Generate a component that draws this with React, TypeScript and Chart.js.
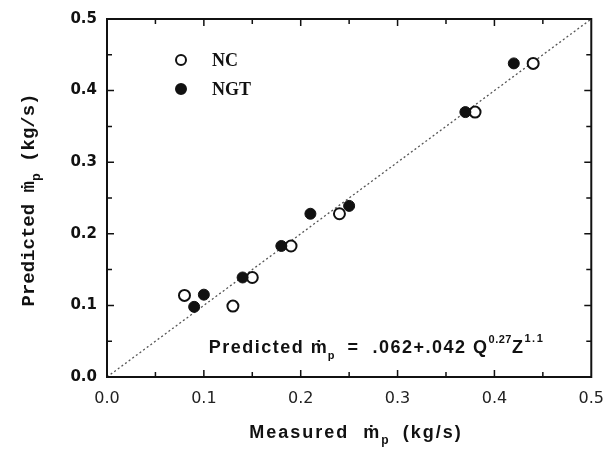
import React, { useEffect, useRef } from "react";
import { Chart, registerables } from "chart.js";
Chart.register(...registerables);

// ---- data ----
const ncX = [0.08, 0.13, 0.15, 0.19, 0.24, 0.38, 0.44];
const ncY = [0.114, 0.099, 0.139, 0.183, 0.228, 0.37, 0.438];
const ngtX = [0.09, 0.1, 0.14, 0.18, 0.21, 0.25, 0.37, 0.42];
const ngtY = [0.098, 0.115, 0.139, 0.183, 0.228, 0.239, 0.37, 0.438];
const parityLine = [0, 0.5];
const seriesLabels = ["NC", "NGT"];
const axisMin = 0;
const axisMax = 0.5;
const majorStep = 0.1;
const minorStep = 0.05;
const equationAnchor = [0.105, 0.033];

type Part = { t: string; f: string; dy: number; ls?: string };

function partsWidth(ctx: CanvasRenderingContext2D, parts: Part[]) {
  let w = 0;
  for (const p of parts) {
    ctx.font = p.f;
    (ctx as any).letterSpacing = p.ls || "0px";
    w += ctx.measureText(p.t).width;
  }
  return w;
}

function drawRich(ctx: CanvasRenderingContext2D, parts: Part[], x: number, y: number, align: "left" | "center") {
  ctx.save();
  ctx.textBaseline = "alphabetic";
  ctx.textAlign = "left";
  let cx = x;
  if (align === "center") cx = x - partsWidth(ctx, parts) / 2;
  for (const p of parts) {
    ctx.font = p.f;
    (ctx as any).letterSpacing = p.ls || "0px";
    ctx.fillText(p.t, cx, y + p.dy);
    cx += ctx.measureText(p.t).width;
  }
  ctx.restore();
}

const decorPlugin = {
  id: "decor",
  afterDraw(chart: any) {
    const ctx: CanvasRenderingContext2D = chart.ctx;
    const xs = chart.scales.x;
    const ys = chart.scales.y;
    const { left, right, top, bottom } = chart.chartArea;
    ctx.save();
    ctx.strokeStyle = "#111";
    ctx.fillStyle = "#111";
    // frame
    ctx.lineWidth = 2;
    ctx.strokeRect(left, top, right - left, bottom - top);
    // inward ticks on all four sides
    ctx.lineWidth = 1.5;
    const n = Math.round((axisMax - axisMin) / minorStep);
    for (let i = 1; i < n; i++) {
      const v = axisMin + i * minorStep;
      const major = i % Math.round(majorStep / minorStep) === 0;
      const len = major ? 7 : 5;
      const px = xs.getPixelForValue(v);
      const py = ys.getPixelForValue(v);
      ctx.beginPath();
      ctx.moveTo(px, bottom);
      ctx.lineTo(px, bottom - len);
      ctx.moveTo(px, top);
      ctx.lineTo(px, top + len);
      ctx.moveTo(left, py);
      ctx.lineTo(left + len, py);
      ctx.moveTo(right, py);
      ctx.lineTo(right - len, py);
      ctx.stroke();
    }
    // legend
    const ds = chart.data.datasets;
    const legendRows = [ds[1], ds[2]];
    legendRows.forEach((d: any, i: number) => {
      const my = 60 + i * 29;
      const mx = 181;
      ctx.beginPath();
      ctx.arc(mx, my, 5, 0, Math.PI * 2);
      ctx.fillStyle = d.backgroundColor;
      ctx.fill();
      ctx.lineWidth = 2;
      ctx.strokeStyle = d.borderColor;
      ctx.stroke();
      ctx.fillStyle = "#111";
      ctx.font = "bold 18px 'Liberation Serif'";
      ctx.textBaseline = "middle";
      ctx.textAlign = "left";
      ctx.fillText(d.label, 212, my + 1);
    });
    ctx.fillStyle = "#111";
    // equation
    const ex = xs.getPixelForValue(equationAnchor[0]);
    const ey = ys.getPixelForValue(equationAnchor[1]);
    const ef = "bold 18px 'Liberation Sans'";
    const es = "bold 11px 'Liberation Sans'";
    drawRich(
      ctx,
      [
        { t: "Predicted ", f: ef, dy: 0, ls: "1.5px" },
        { t: "\u1E41", f: ef, dy: 0, ls: "1px" },
        { t: "p", f: es, dy: 6 },
        { t: "  =  .062+.042 Q", f: ef, dy: 0, ls: "1.5px" },
        { t: "0.27", f: es, dy: -10, ls: "0.5px" },
        { t: "Z", f: ef, dy: 0, ls: "1.5px" },
        { t: "1.1", f: es, dy: -11, ls: "1.5px" },
      ],
      ex,
      ey,
      "left"
    );
    // x title
    const xf = "bold 18px 'Liberation Sans'";
    const xsf = "bold 12px 'Liberation Sans'";
    drawRich(
      ctx,
      [
        { t: "Measured  \u1E41", f: xf, dy: 0, ls: "2px" },
        { t: "p", f: xsf, dy: 6 },
        { t: "  (kg/s)", f: xf, dy: 0, ls: "2px" },
      ],
      356,
      438,
      "center"
    );
    // y title
    ctx.save();
    ctx.translate(34, 200);
    ctx.rotate(-Math.PI / 2);
    const yf = "bold 19px 'Liberation Mono'";
    const ysf = "bold 13px 'Liberation Mono'";
    drawRich(
      ctx,
      [
        { t: "Predicted \u1E41", f: yf, dy: 0 },
        { t: "p", f: ysf, dy: 6 },
        { t: " (kg/s)", f: yf, dy: 0 },
      ],
      0,
      0,
      "center"
    );
    ctx.restore();
    ctx.restore();
  },
};

export default function App() {
  const ref = useRef<HTMLCanvasElement | null>(null);
  useEffect(() => {
    if (!ref.current) return;
    const chart = new Chart(ref.current, {
      type: "scatter",
      data: {
        datasets: [
          {
            label: "parity",
            data: parityLine.map((v) => ({ x: v, y: v })),
            showLine: true,
            borderColor: "#555",
            borderWidth: 1.3,
            borderDash: [2, 2.5],
            pointRadius: 0,
            order: 3,
          },
          {
            label: seriesLabels[0],
            data: ncX.map((x, i) => ({ x, y: ncY[i] })),
            backgroundColor: "#ffffff",
            borderColor: "#111",
            borderWidth: 2,
            pointRadius: 5.5,
            order: 2,
          },
          {
            label: seriesLabels[1],
            data: ngtX.map((x, i) => ({ x, y: ngtY[i] })),
            backgroundColor: "#111",
            borderColor: "#111",
            borderWidth: 1,
            pointRadius: 5.5,
            order: 1,
          },
        ],
      },
      options: {
        animation: false,
        responsive: true,
        maintainAspectRatio: false,
        layout: { padding: { left: 0, right: 21, top: 15, bottom: 0 } },
        plugins: { legend: { display: false }, tooltip: { enabled: false } },
        scales: {
          x: {
            type: "linear",
            min: axisMin,
            max: axisMax,
            afterFit: (s: any) => {
              s.height = 73;
            },
            border: { display: false },
            grid: { display: false, drawTicks: false },
            ticks: {
              stepSize: majorStep,
              padding: 12,
              color: "#222",
              font: { family: "'DejaVu Sans'", size: 16 },
              callback: (v: any) => Number(v).toFixed(1),
            },
          },
          y: {
            type: "linear",
            min: axisMin,
            max: axisMax,
            afterFit: (s: any) => {
              s.width = 107;
            },
            border: { display: false },
            grid: { display: false, drawTicks: false },
            ticks: {
              stepSize: majorStep,
              padding: 10,
              color: "#111",
              font: { family: "'DejaVu Sans'", size: 15, weight: "bold" },
              callback: (v: any) => Number(v).toFixed(1),
            },
          },
        },
      },
      plugins: [decorPlugin],
    } as any);
    return () => chart.destroy();
  }, []);
  return (
    <div style={{ position: "fixed", left: 0, top: 0, width: 616, height: 450, background: "#fff" }}>
      <canvas ref={ref} />
    </div>
  );
}
